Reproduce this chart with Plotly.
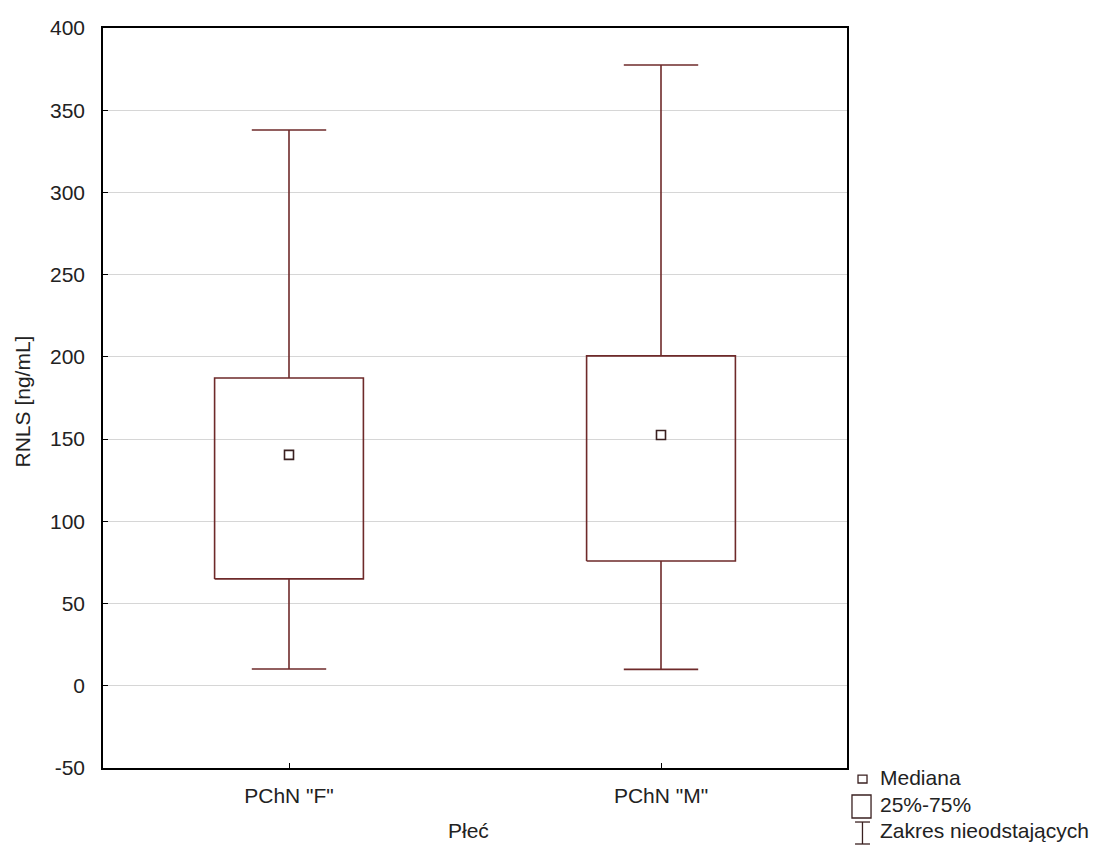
import plotly.graph_objects as go

categories = ['PChN "F"', 'PChN "M"']
whisker_low = [10.2, 10.0]
q1 = [65.0, 75.9]
median = [140.4, 152.5]
q3 = [187.2, 200.6]
whisker_high = [338.0, 377.5]
y_ticks = [-50, 0, 50, 100, 150, 200, 250, 300, 350, 400]
legend_labels = ["Mediana", "25%-75%", "Zakres nieodstających"]

LINE = "#6e2a2a"
ICON = "#3a2020"
TXT = "#222222"
FONT = "Liberation Sans, Arial, sans-serif"
FS = 21
BOX_HALF = 0.2
CAP_HALF = 0.1

fig = go.Figure()
for i, cat in enumerate(categories):
    fig.add_trace(go.Scatter(
        x=[i, i, None, i, i, None, i - CAP_HALF, i + CAP_HALF, None, i - CAP_HALF, i + CAP_HALF],
        y=[whisker_high[i], q3[i], None, q1[i], whisker_low[i], None,
           whisker_high[i], whisker_high[i], None, whisker_low[i], whisker_low[i]],
        mode="lines", line=dict(color=LINE, width=1.6), showlegend=False, hoverinfo="skip"))
    fig.add_trace(go.Scatter(
        x=[i - BOX_HALF, i + BOX_HALF, i + BOX_HALF, i - BOX_HALF, i - BOX_HALF],
        y=[q1[i], q1[i], q3[i], q3[i], q1[i]],
        mode="lines", line=dict(color=LINE, width=1.6), showlegend=False, hoverinfo="skip"))
    fig.add_trace(go.Scatter(
        x=[i], y=[median[i]], mode="markers",
        marker=dict(symbol="square-open", size=9, color=ICON, line=dict(width=1.6)),
        showlegend=False))

# custom legend (outside plot area, bottom right)
ln = dict(color=ICON, width=1.3)
fig.add_shape(type="rect", xref="paper", yref="paper",
              x0=1.0148, x1=1.0269, y0=-0.0203, y1=-0.0095, line=ln)
fig.add_shape(type="rect", xref="paper", yref="paper",
              x0=1.0067, x1=1.0323, y0=-0.0676, y1=-0.0365, line=ln)
fig.add_shape(type="line", xref="paper", yref="paper",
              x0=1.0208, x1=1.0208, y0=-0.1027, y1=-0.0730, line=ln)
fig.add_shape(type="line", xref="paper", yref="paper",
              x0=1.0108, x1=1.0309, y0=-0.0730, y1=-0.0730, line=ln)
fig.add_shape(type="line", xref="paper", yref="paper",
              x0=1.0108, x1=1.0309, y0=-0.1027, y1=-0.1027, line=ln)
for txt, yy in zip(legend_labels, [-0.0135, -0.0493, -0.0838]):
    fig.add_annotation(xref="paper", yref="paper", x=1.0417, y=yy, text=txt,
                       showarrow=False, xanchor="left", yanchor="middle",
                       font=dict(family=FONT, size=FS, color=TXT))

# axis titles as annotations for exact placement
fig.add_annotation(xref="paper", yref="paper", x=0.4906, y=-0.0851, text="Płeć",
                   showarrow=False, xanchor="center", yanchor="middle",
                   font=dict(family=FONT, size=FS, color=TXT))
fig.add_annotation(xref="paper", yref="paper", x=-0.1082, y=0.496, text="RNLS [ng/mL]",
                   textangle=-90, showarrow=False, xanchor="center", yanchor="middle",
                   font=dict(family=FONT, size=FS, color=TXT))

fig.update_layout(
    width=1119, height=848,
    margin=dict(l=103, r=272, t=28, b=80),
    paper_bgcolor="white", plot_bgcolor="white",
    font=dict(family=FONT, size=FS, color=TXT),
    showlegend=False,
)
fig.update_xaxes(
    range=[-0.5, 1.5], tickvals=list(range(len(categories))), ticktext=categories,
    showline=True, linecolor="black", linewidth=1.5, mirror=True,
    ticks="inside", ticklen=5, tickcolor="black", showgrid=False, zeroline=False,
    ticklabelstandoff=8,
)
fig.update_yaxes(
    range=[-50, 400], tickvals=y_ticks, ticktext=[str(v) for v in y_ticks],
    showline=True, linecolor="black", linewidth=1.5, mirror=True,
    ticks="inside", ticklen=5, tickcolor="black",
    showgrid=True, gridcolor="#d6d6d6", gridwidth=1, zeroline=False,
    ticklabelstandoff=12,
)

fig.write_html("out.html")
